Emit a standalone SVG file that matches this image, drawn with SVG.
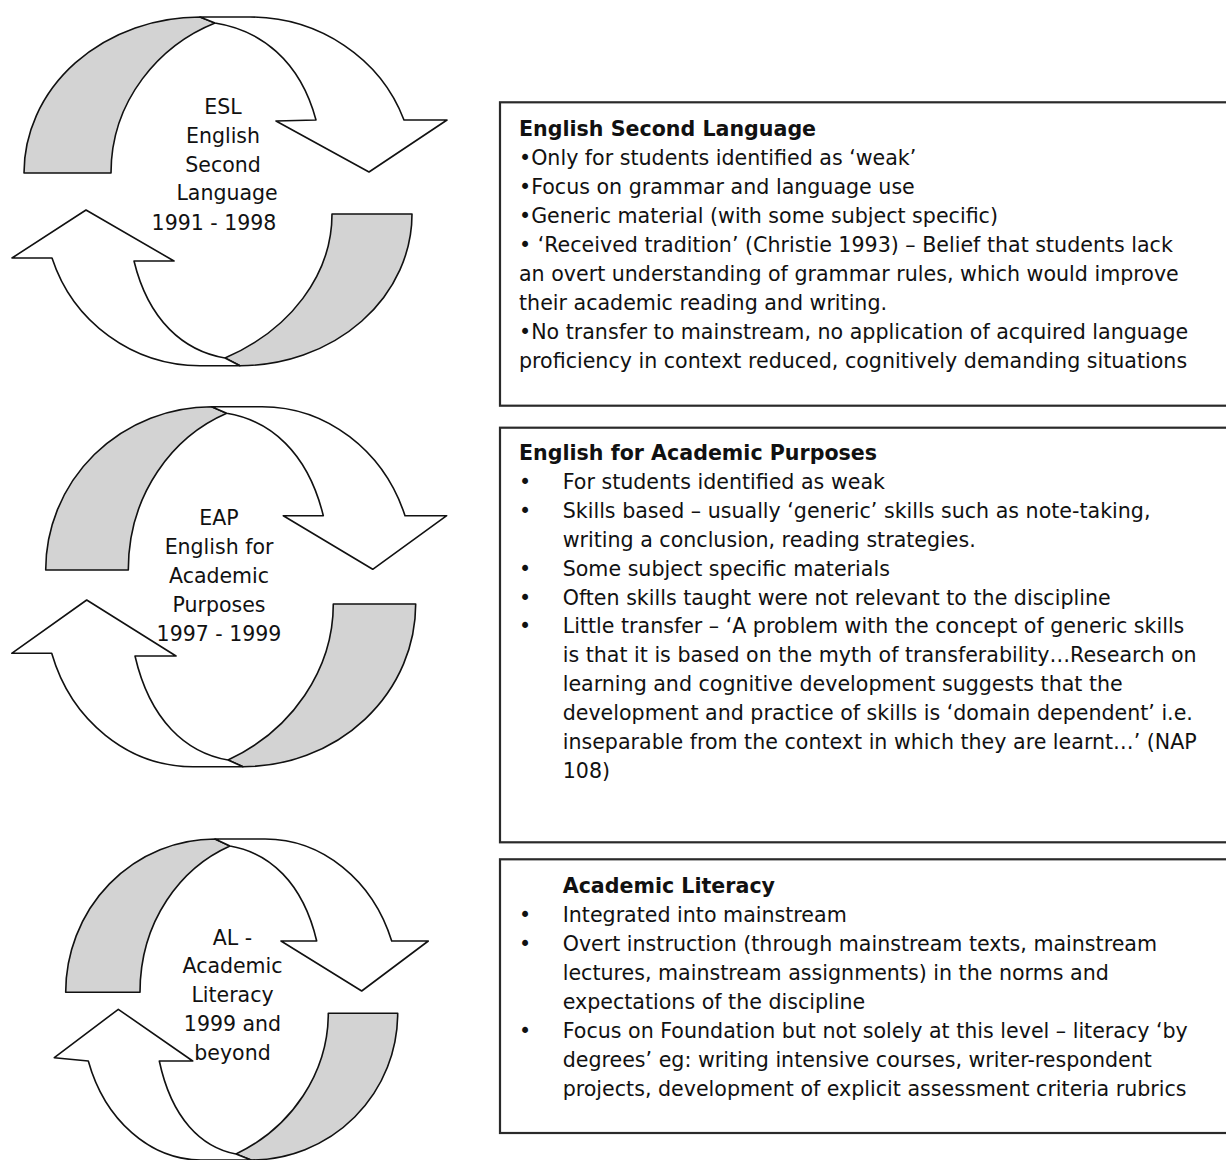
<svg xmlns="http://www.w3.org/2000/svg" width="1226" height="1160" viewBox="0 0 1226 1160">
  <style>
    .back { fill: #d3d3d3; stroke: #111; stroke-width: 1.6; stroke-linejoin: round; }
    .face { fill: #ffffff; stroke: #111; stroke-width: 1.6; stroke-linejoin: round; }
    .lbl { font-family: "DejaVu Sans", Verdana, sans-serif; font-size: 20.5px; fill: #111; text-anchor: middle; }
    .box { fill: #ffffff; stroke: #2a2a2a; stroke-width: 2.2; }
    .t { font-family: "DejaVu Sans", Verdana, sans-serif; font-size: 20.6px; fill: #111; }
    .h { font-weight: bold; }
  </style>
  <rect width="1226" height="1160" fill="#ffffff"/>

  <!-- cycle 1: ESL -->
  <g id="cycle-esl">
    <path class="back" d="M24,173 A176,156 0 0 1 200,17 L215,23 C160,45 111,100 111,173 Z"/>
    <path class="face" d="M200,17 L250,17 A163.8,156 0 0 1 404,120 L447,120 L369,172 L276,121 L316,120 C300,60 260,30 215,23 Z"/>
    <path class="back" d="M412,214 A172,151.7 0 0 1 240,365.7 L225,358 C290,330 332,275 332,214 Z"/>
    <path class="face" d="M240,365.7 L200,365.7 A156,156.7 0 0 1 52,258 L12,258 L86,210 L174,261 L134,261 C148.6,321 184,351 225,358 Z"/>
    <text class="lbl" x="223" y="114.3">ESL</text>
    <text class="lbl" x="223" y="143.3">English</text>
    <text class="lbl" x="223" y="171.7">Second</text>
    <text class="lbl" x="227" y="200">Language</text>
    <text class="lbl" x="214" y="230">1991 - 1998</text>
  </g>

  <!-- cycle 2: EAP -->
  <g id="cycle-eap">
    <path class="back" d="M45.7,570 A166,163.3 0 0 1 211.7,406.7 L226.7,413.3 C173.6,436.2 128.3,493.2 128.3,570 Z"/>
    <path class="face" d="M211.7,406.7 L262,406.7 A151.6,163.3 0 0 1 405,515.7 L446.7,515.7 L372.7,569.3 L283.3,515.7 L323.3,515.7 C307.8,452.2 270.2,420.5 226.7,413.3 Z"/>
    <path class="back" d="M415.7,604 A172.7,162.7 0 0 1 243,766.7 L228,760 C291.9,730.4 333.3,669.5 333.3,604 Z"/>
    <path class="face" d="M243,766.7 L193,766.7 A148.3,162.7 0 0 1 51.7,653.3 L11.7,653.3 L86.7,600 L176,656 L135,656 C149.9,720.5 186.1,752.7 228,760 Z"/>
    <text class="lbl" x="219" y="525">EAP</text>
    <text class="lbl" x="219" y="554">English for</text>
    <text class="lbl" x="219" y="582.7">Academic</text>
    <text class="lbl" x="219" y="611.7">Purposes</text>
    <text class="lbl" x="219" y="640.7">1997 - 1999</text>
  </g>

  <!-- cycle 3: AL -->
  <g id="cycle-al">
    <path class="back" d="M65.7,992.3 A149.3,153.3 0 0 1 215,839 L230,846 C181.4,867.5 140,920.3 140,992.3 Z"/>
    <path class="face" d="M215,839 L265,839 A134.4,153.3 0 0 1 391.7,941 L428.3,941 L361.7,991 L281,941 L316.7,941 C302.8,882.1 269,852.7 230,846 Z"/>
    <path class="back" d="M397.7,1013.3 A146.7,146.7 0 0 1 251,1160 L236,1154 C292,1127.3 328.3,1072.3 328.3,1013.3 Z"/>
    <path class="face" d="M251,1160 L201,1160 A119.2,146.7 0 0 1 88.3,1061 L54.3,1057.7 L118.3,1009.3 L192.7,1061 L159.3,1061 C171.6,1118.7 201.5,1147.5 236,1154 Z"/>
    <text class="lbl" x="232.5" y="945">AL -</text>
    <text class="lbl" x="232.5" y="973.3">Academic</text>
    <text class="lbl" x="232.5" y="1002.3">Literacy</text>
    <text class="lbl" x="232.5" y="1031">1999 and</text>
    <text class="lbl" x="232.5" y="1060">beyond</text>
  </g>

  <!-- box 1: English Second Language -->
  <g id="box-esl">
    <rect class="box" x="500" y="102.3" width="740" height="303.4"/>
    <text class="t h" x="519" y="136">English Second Language</text>
    <text class="t" x="519" y="165">•Only for students identified as ‘weak’</text>
    <text class="t" x="519" y="194">•Focus on grammar and language use</text>
    <text class="t" x="519" y="223">•Generic material (with some subject specific)</text>
    <text class="t" x="519" y="252">• ‘Received tradition’ (Christie 1993) – Belief that students lack</text>
    <text class="t" x="519" y="281">an overt understanding of grammar rules, which would improve</text>
    <text class="t" x="519" y="310">their academic reading and writing.</text>
    <text class="t" x="519" y="339">•No transfer to mainstream, no application of acquired language</text>
    <text class="t" x="519" y="368">proficiency in context reduced, cognitively demanding situations</text>
  </g>

  <!-- box 2: English for Academic Purposes -->
  <g id="box-eap">
    <rect class="box" x="500" y="427.7" width="740" height="414.6"/>
    <text class="t h" x="519" y="460">English for Academic Purposes</text>
    <text class="t" x="519" y="489">•</text>
    <text class="t" x="562.7" y="489">For students identified as weak</text>
    <text class="t" x="519" y="517.8">•</text>
    <text class="t" x="562.7" y="517.8">Skills based – usually ‘generic’ skills such as note-taking,</text>
    <text class="t" x="562.7" y="546.7">writing a conclusion, reading strategies.</text>
    <text class="t" x="519" y="575.6">•</text>
    <text class="t" x="562.7" y="575.6">Some subject specific materials</text>
    <text class="t" x="519" y="604.5">•</text>
    <text class="t" x="562.7" y="604.5">Often skills taught were not relevant to the discipline</text>
    <text class="t" x="519" y="633.4">•</text>
    <text class="t" x="562.7" y="633.4">Little transfer – ‘A problem with the concept of generic skills</text>
    <text class="t" x="562.7" y="662.3">is that it is based on the myth of transferability…Research on</text>
    <text class="t" x="562.7" y="691.2">learning and cognitive development suggests that the</text>
    <text class="t" x="562.7" y="720.1">development and practice of skills is ‘domain dependent’ i.e.</text>
    <text class="t" x="562.7" y="749">inseparable from the context in which they are learnt…’ (NAP</text>
    <text class="t" x="562.7" y="777.9">108)</text>
  </g>

  <!-- box 3: Academic Literacy -->
  <g id="box-al">
    <rect class="box" x="500" y="859.3" width="740" height="273.7"/>
    <text class="t h" x="562.7" y="892.7">Academic Literacy</text>
    <text class="t" x="519" y="921.8">•</text>
    <text class="t" x="562.7" y="921.8">Integrated into mainstream</text>
    <text class="t" x="519" y="950.9">•</text>
    <text class="t" x="562.7" y="950.9">Overt instruction (through mainstream texts, mainstream</text>
    <text class="t" x="562.7" y="980">lectures, mainstream assignments) in the norms and</text>
    <text class="t" x="562.7" y="1009.1">expectations of the discipline</text>
    <text class="t" x="519" y="1038.2">•</text>
    <text class="t" x="562.7" y="1038.2">Focus on Foundation but not solely at this level – literacy ‘by</text>
    <text class="t" x="562.7" y="1067.3">degrees’ eg: writing intensive courses, writer-respondent</text>
    <text class="t" x="562.7" y="1096.4">projects, development of explicit assessment criteria rubrics</text>
  </g>
</svg>
